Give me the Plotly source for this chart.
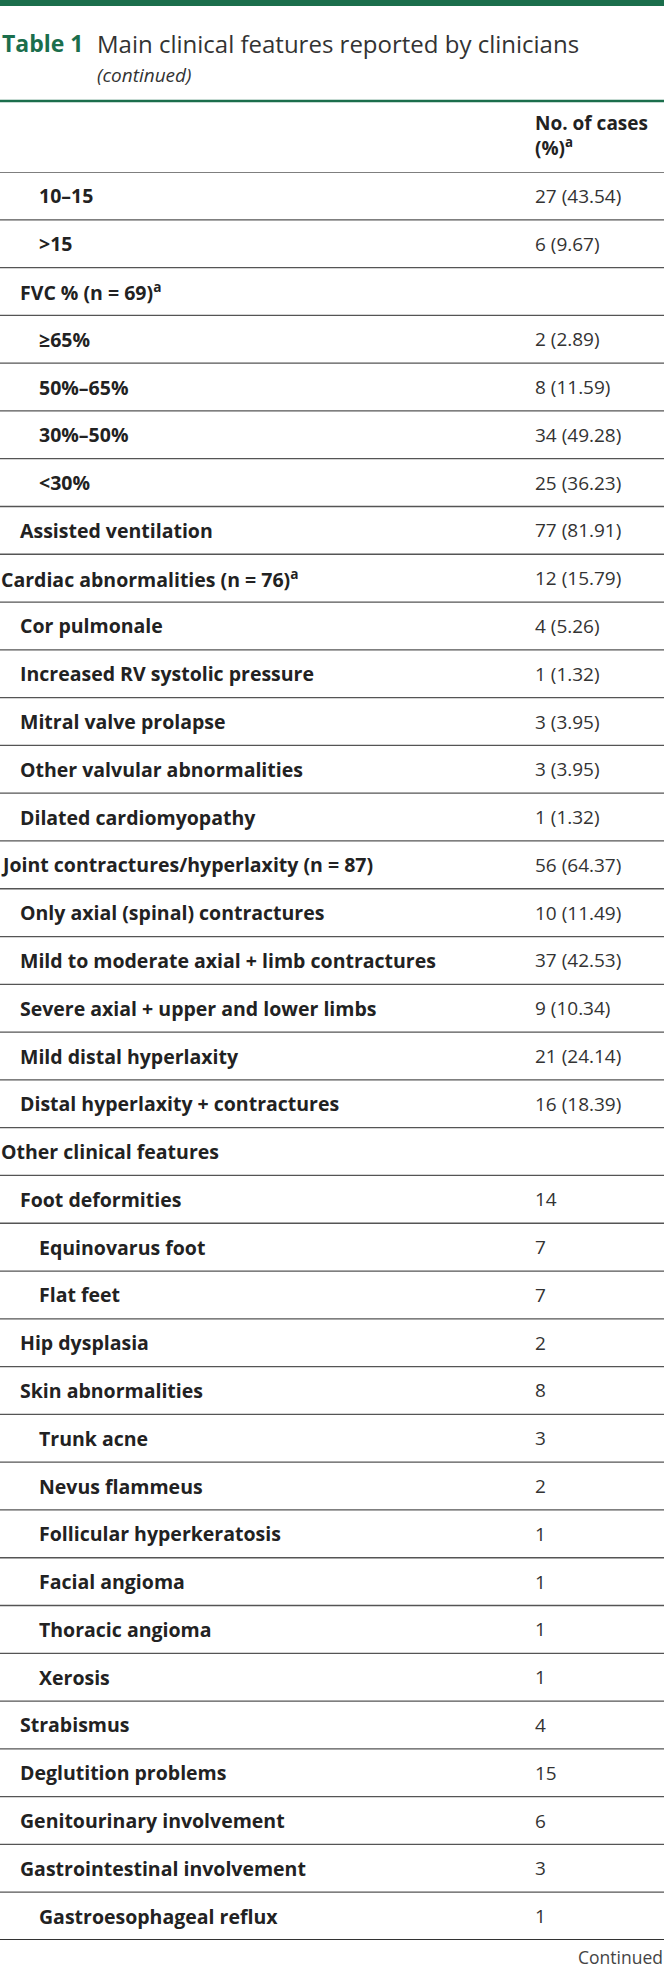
import plotly.graph_objects as go

# ---------------- data ----------------
labels = [
    "10–15", ">15", "FVC % (n = 69)<sup>a</sup>", "≥65%", "50%–65%", "30%–50%", "<30%",
    "Assisted ventilation", "Cardiac abnormalities (n = 76)<sup>a</sup>", "Cor pulmonale",
    "Increased RV systolic pressure", "Mitral valve prolapse", "Other valvular abnormalities",
    "Dilated cardiomyopathy", "Joint contractures/hyperlaxity (n = 87)",
    "Only axial (spinal) contractures", "Mild to moderate axial + limb contractures",
    "Severe axial + upper and lower limbs", "Mild distal hyperlaxity",
    "Distal hyperlaxity + contractures", "Other clinical features", "Foot deformities",
    "Equinovarus foot", "Flat feet", "Hip dysplasia", "Skin abnormalities", "Trunk acne",
    "Nevus flammeus", "Follicular hyperkeratosis", "Facial angioma", "Thoracic angioma",
    "Xerosis", "Strabismus", "Deglutition problems", "Genitourinary involvement",
    "Gastrointestinal involvement", "Gastroesophageal reflux",
]
levels = [2, 2, 1, 2, 2, 2, 2, 1, 0, 1, 1, 1, 1, 1, 0, 1, 1, 1, 1, 1, 0, 1, 2, 2, 1, 1,
          2, 2, 2, 2, 2, 2, 1, 1, 1, 1, 2]
values = [
    "27 (43.54)", "6 (9.67)", "", "2 (2.89)", "8 (11.59)", "34 (49.28)", "25 (36.23)",
    "77 (81.91)", "12 (15.79)", "4 (5.26)", "1 (1.32)", "3 (3.95)", "3 (3.95)", "1 (1.32)",
    "56 (64.37)", "10 (11.49)", "37 (42.53)", "9 (10.34)", "21 (24.14)", "16 (18.39)", "",
    "14", "7", "7", "2", "8", "3", "2", "1", "1", "1", "1", "4", "15", "6", "3", "1",
]
title_label = "Table 1"
title_text = "Main clinical features reported by clinicians"
subtitle_text = "(continued)"
header_text = "No. of cases<br>(%)<sup>a</sup>"
footer_text = "Continued"

# ---------------- layout constants ----------------
W, H = 664, 1969
TOP, BOTTOM = 172, 1940
GREEN = "#1b6e4c"
INDENT = [1, 20, 39]             # pixel positions of indentation levels
VAL_X = 535                      # pixel position of value column
n = len(labels)
rows = list(range(n))


def py(ypx):
    """pixel y (from top) -> paper y"""
    return (BOTTOM - ypx) / (BOTTOM - TOP)


fig = go.Figure()
# invisible anchor trace so the axes exist with the row scale
fig.add_trace(go.Scatter(
    x=[VAL_X] * n, y=rows, mode="markers", marker=dict(size=0, opacity=0),
    hoverinfo="skip", showlegend=False,
))

annotations = []
for r, (lab, lev, val) in enumerate(zip(labels, levels, values)):
    annotations.append(dict(
        text="<b>" + lab + "</b>", x=INDENT[lev], y=r, xref="x", yref="y",
        xanchor="left", yanchor="middle", showarrow=False, borderpad=0, borderwidth=0,
        font=dict(family="Open Sans", size=19.5, color="#222222")))
    if val:
        annotations.append(dict(
            text=val, x=VAL_X, y=r, xref="x", yref="y",
            xanchor="left", yanchor="middle", showarrow=False, borderpad=0, borderwidth=0,
            font=dict(family="Open Sans", size=19, color="#333333")))

shapes = []
# row separators
for i in range(n - 1):
    shapes.append(dict(type="line", xref="paper", yref="y", x0=0, x1=1,
                       y0=i + 0.5, y1=i + 0.5, line=dict(color="#555555", width=1.3)))
# header bottom line
shapes.append(dict(type="line", xref="paper", yref="y", x0=0, x1=1, y0=-0.5, y1=-0.5,
                   line=dict(color="#555555", width=1.5)))
# table bottom line
shapes.append(dict(type="line", xref="paper", yref="y", x0=0, x1=1, y0=n - 0.5, y1=n - 0.5,
                   line=dict(color="#333333", width=2)))
# top green bar
shapes.append(dict(type="rect", xref="paper", yref="paper", x0=0, x1=1, y0=py(6), y1=py(0),
                   fillcolor=GREEN, line=dict(width=0)))
# green line under title
shapes.append(dict(type="line", xref="paper", yref="paper", x0=0, x1=1, y0=py(101), y1=py(101),
                   line=dict(color=GREEN, width=2.5)))

annotations += [
    dict(text="<b>" + title_label + "</b>", x=2, y=py(43), xref="x", yref="paper",
         xanchor="left", yanchor="middle", showarrow=False, borderpad=0, borderwidth=0,
         font=dict(family="Open Sans", size=23, color=GREEN)),
    dict(text=title_text, x=97, y=py(43), xref="x", yref="paper",
         xanchor="left", yanchor="middle", showarrow=False, borderpad=0, borderwidth=0,
         font=dict(family="Open Sans", size=24, color="#333333")),
    dict(text="<i>" + subtitle_text + "</i>", x=97, y=py(75), xref="x", yref="paper",
         xanchor="left", yanchor="middle", showarrow=False, borderpad=0, borderwidth=0,
         font=dict(family="Open Sans", size=19, color="#333333")),
    dict(text="<b>" + header_text + "</b>", x=VAL_X, y=py(135), xref="x", yref="paper",
         xanchor="left", yanchor="middle", align="left", showarrow=False,
         borderpad=0, borderwidth=0,
         font=dict(family="Open Sans", size=19, color="#222222")),
    dict(text=footer_text, x=W - 1, y=py(1957), xref="x", yref="paper",
         xanchor="right", yanchor="middle", showarrow=False, borderpad=0, borderwidth=0,
         font=dict(family="Open Sans", size=17.5, color="#444444")),
]

fig.update_layout(
    width=W, height=H,
    margin=dict(l=0, r=0, t=TOP, b=H - BOTTOM, pad=0),
    paper_bgcolor="white", plot_bgcolor="white",
    xaxis=dict(range=[0, W], visible=False, fixedrange=True),
    yaxis=dict(range=[n - 0.5, -0.5], visible=False, fixedrange=True),
    shapes=shapes, annotations=annotations,
)

fig.write_html(
    "out.html",
    config={"displayModeBar": False},
    post_script="document.body.style.margin='0';document.body.style.overflow='hidden';",
)
